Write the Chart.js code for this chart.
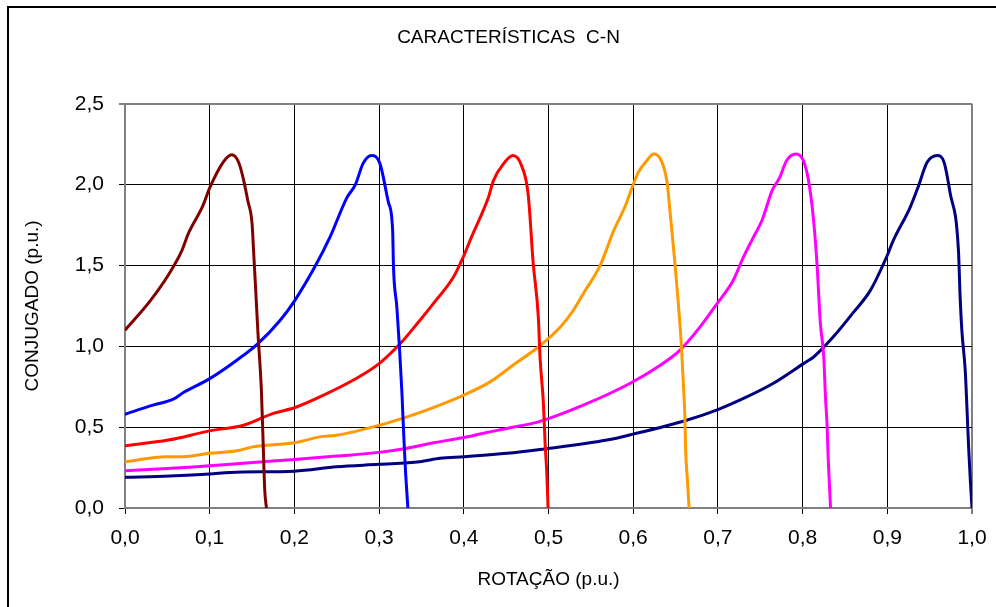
<!DOCTYPE html>
<html>
<head>
<meta charset="utf-8">
<script src="https://cdn.jsdelivr.net/npm/chart.js@4.4.1/dist/chart.umd.min.js"></script>
<style>
  html, body { margin: 0; padding: 0; background: #fff; overflow: hidden; }
  #frame { position: absolute; left: 7px; top: 6px; width: 1200px; height: 800px; border: 2px solid #000; }
  #wrap { position: absolute; left: 0; top: 0; width: 996px; height: 607px; }
</style>
</head>
<body>
<div id="frame"></div>
<div id="wrap"><canvas id="chart" width="996" height="607"></canvas></div>
<script>
// curves: rotation (p.u.) vs torque (p.u.)
const rotDarkRed = [0, 0.0295, 0.051, 0.067, 0.075, 0.092, 0.1, 0.116, 0.126, 0.134, 0.14, 0.145, 0.15, 0.152, 0.154, 0.157, 0.161, 0.163, 0.165, 0.167];
const conjDarkRed = [1.10, 1.28, 1.44, 1.59, 1.70, 1.87, 1.98, 2.14, 2.185, 2.14, 2.03, 1.90, 1.76, 1.57, 1.38, 1.08, 0.73, 0.42, 0.11, 0];

const rotBlue = [0, 0.033, 0.057, 0.069, 0.1, 0.132, 0.157, 0.183, 0.2, 0.224, 0.242, 0.262, 0.272, 0.281, 0.291, 0.301, 0.311, 0.316, 0.317, 0.321, 0.324, 0.327, 0.329, 0.331, 0.334];
const conjBlue = [0.58, 0.636, 0.673, 0.714, 0.80, 0.914, 1.017, 1.16, 1.28, 1.49, 1.675, 1.92, 2.0, 2.13, 2.18, 2.13, 1.89, 1.716, 1.49, 1.24, 0.996, 0.708, 0.461, 0.245, 0];

const rotRed = [0, 0.051, 0.1, 0.14, 0.175, 0.2, 0.23, 0.275, 0.3, 0.325, 0.348, 0.364, 0.388, 0.4, 0.409, 0.429, 0.435, 0.447, 0.458, 0.468, 0.476, 0.482, 0.488, 0.490, 0.494, 0.496, 0.498, 0.4995];
const conjRed = [0.385, 0.42, 0.477, 0.512, 0.585, 0.62, 0.687, 0.807, 0.893, 1.017, 1.16, 1.264, 1.43, 1.56, 1.675, 1.92, 2.025, 2.13, 2.18, 2.12, 1.94, 1.51, 1.18, 0.934, 0.646, 0.40, 0.214, 0];

const rotOrange = [0, 0.049, 0.069, 0.1, 0.132, 0.151, 0.2, 0.23, 0.25, 0.3, 0.333, 0.364, 0.4, 0.431, 0.458, 0.488, 0.514, 0.529, 0.541, 0.561, 0.577, 0.590, 0.600, 0.606, 0.616, 0.624, 0.632, 0.640, 0.643, 0.649, 0.653, 0.657, 0.659, 0.661, 0.662, 0.664, 0.666];
const conjOrange = [0.286, 0.317, 0.317, 0.338, 0.354, 0.378, 0.403, 0.44, 0.45, 0.512, 0.564, 0.621, 0.698, 0.78, 0.883, 0.996, 1.12, 1.22, 1.325, 1.50, 1.716, 1.86, 2.0, 2.076, 2.148, 2.19, 2.16, 2.015, 1.86, 1.53, 1.284, 0.996, 0.79, 0.564, 0.348, 0.173, 0];

const rotMagenta = [0, 0.033, 0.085, 0.1, 0.151, 0.2, 0.25, 0.3, 0.333, 0.364, 0.4, 0.427, 0.451, 0.49, 0.541, 0.596, 0.632, 0.655, 0.679, 0.699, 0.718, 0.730, 0.742, 0.752, 0.764, 0.773, 0.781, 0.792, 0.801, 0.807, 0.813, 0.817, 0.821, 0.825, 0.827, 0.829, 0.830, 0.832, 0.833];
const conjMagenta = [0.23, 0.239, 0.255, 0.261, 0.282, 0.30, 0.321, 0.344, 0.37, 0.403, 0.436, 0.467, 0.492, 0.536, 0.636, 0.77, 0.883, 0.975, 1.12, 1.264, 1.407, 1.55, 1.675, 1.778, 1.963, 2.045, 2.148, 2.19, 2.148, 2.025, 1.778, 1.51, 1.14, 0.934, 0.687, 0.502, 0.338, 0.111, 0];

const rotNavy = [0, 0.053, 0.1, 0.124, 0.2, 0.25, 0.3, 0.348, 0.372, 0.4, 0.451, 0.49, 0.569, 0.6, 0.663, 0.7, 0.734, 0.765, 0.801, 0.813, 0.836, 0.860, 0.880, 0.899, 0.907, 0.927, 0.937, 0.947, 0.959, 0.967, 0.974, 0.984, 0.986, 0.988, 0.992, 0.994, 0.996, 0.998, 1.0];
const conjNavy = [0.19, 0.198, 0.21, 0.22, 0.228, 0.255, 0.27, 0.286, 0.307, 0.317, 0.338, 0.362, 0.42, 0.457, 0.543, 0.609, 0.687, 0.77, 0.893, 0.934, 1.057, 1.21, 1.346, 1.551, 1.654, 1.86, 1.994, 2.138, 2.18, 2.138, 1.953, 1.593, 1.304, 1.10, 0.852, 0.625, 0.378, 0.173, 0];

const curves = [
  { x: rotDarkRed, y: conjDarkRed, color: '#800000' },
  { x: rotBlue, y: conjBlue, color: '#0000FF' },
  { x: rotRed, y: conjRed, color: '#FF0000' },
  { x: rotOrange, y: conjOrange, color: '#FF9900' },
  { x: rotMagenta, y: conjMagenta, color: '#FF00FF' },
  { x: rotNavy, y: conjNavy, color: '#000080' }
];

const comma = v => v.toFixed(1).replace('.', ',');
const edgeColor = (max) => c => (c.tick && c.tick.value === max) ? '#808080' : '#000000';
const edgeWidth = (max) => c => (c.tick && c.tick.value === max) ? 2 : 1;
const font = 'Liberation Sans, Arial';

new Chart(document.getElementById('chart'), {
  type: 'scatter',
  data: {
    datasets: curves.map(c => ({
      data: c.x.map((x, i) => ({ x: x, y: c.y[i] })),
      showLine: true,
      borderColor: c.color,
      borderWidth: 3,
      pointRadius: 0,
      cubicInterpolationMode: 'monotone',
      fill: false
    }))
  },
  options: {
    responsive: false,
    animation: false,
    layout: { padding: { left: 45, right: 24, top: 0, bottom: 0 } },
    plugins: {
      legend: { display: false },
      tooltip: { enabled: false },
      title: {
        display: true,
        text: 'CARACTERÍSTICAS  C-N',
        color: '#000',
        font: { family: font, size: 19, weight: 'normal' },
        padding: { top: 26, bottom: 55 }
      }
    },
    scales: {
      x: {
        type: 'linear',
        min: 0, max: 1,
        ticks: { stepSize: 0.1, callback: comma, color: '#000', padding: 12, maxRotation: 0,
                 font: { family: font, size: 21 } },
        grid: { color: edgeColor(1), lineWidth: edgeWidth(1), tickColor: '#000', tickLength: 6, tickWidth: 1 },
        border: { display: true, color: '#808080', width: 2 },
        title: { display: true, text: 'ROTAÇÃO (p.u.)', color: '#000', padding: { top: 0, bottom: 16 },
                 font: { family: font, size: 19 } },
        afterFit: s => { s.height = 99; s.paddingRight = 0; s.paddingLeft = 0; }
      },
      y: {
        type: 'linear',
        min: 0, max: 2.5,
        ticks: { stepSize: 0.5, callback: comma, color: '#000', padding: 15,
                 font: { family: font, size: 21 } },
        grid: { color: edgeColor(2.5), lineWidth: edgeWidth(2.5), tickColor: '#000', tickLength: 6, tickWidth: 1 },
        border: { display: true, color: '#808080', width: 2 },
        title: { display: true, text: 'CONJUGADO (p.u.)', color: '#000', padding: { top: -24, bottom: 0 },
                 font: { family: font, size: 19 } },
        afterFit: s => { s.width = 80; }
      }
    }
  }
});
</script>
</body>
</html>
